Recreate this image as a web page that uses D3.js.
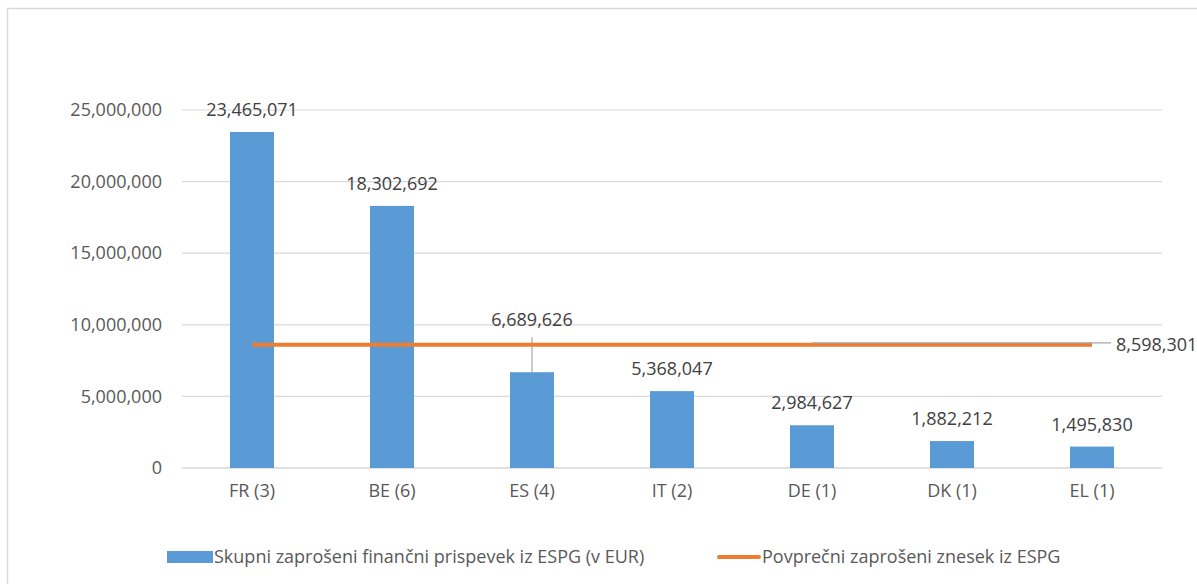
<!DOCTYPE html>
<html>
<head>
<meta charset="utf-8">
<script src="https://cdn.jsdelivr.net/npm/d3@7"></script>
<style>
  body { margin: 0; background: #fff; }
  text { font-family: "Open Sans", sans-serif; fill: #404040; }
</style>
</head>
<body>
<div id="chart"></div>
<script>
var categories = ["FR (3)", "BE (6)", "ES (4)", "IT (2)", "DE (1)", "DK (1)", "EL (1)"];
var totals = [23465071, 18302692, 6689626, 5368047, 2984627, 1882212, 1495830];
var average = [8598301, 8598301, 8598301, 8598301, 8598301, 8598301, 8598301];
var yTicks = [0, 5000000, 10000000, 15000000, 20000000, 25000000];
var seriesNames = ["Skupni zaprošeni finančni prispevek iz ESPG (v EUR)", "Povprečni zaprošeni znesek iz ESPG"];

var width = 1197;
var height = 584;
var plotL = 182, plotR = 1162, plotT = 110, plotB = 468;
var fs = "18px";
var fmt = d3.format(",");

var svg = d3.select("#chart")
    .append("svg")
    .attr("width", width)
    .attr("height", height);

// chart frame
svg.append("rect")
    .attr("x", 7.5).attr("y", 8.5)
    .attr("width", 1250).attr("height", 700)
    .attr("fill", "none")
    .attr("stroke", "#d9d9d9")
    .attr("stroke-width", 1.5);

var x = d3.scaleBand()
    .domain(categories)
    .range([plotL, plotR]);

var y = d3.scaleLinear()
    .domain([0, 25000000])
    .range([plotB, plotT]);

// gridlines
svg.append("g")
    .selectAll("line")
    .data(yTicks)
    .enter()
    .append("line")
    .attr("x1", plotL).attr("x2", plotR)
    .attr("y1", function (d) { return y(d); })
    .attr("y2", function (d) { return y(d); })
    .attr("stroke", "#d9d9d9")
    .attr("stroke-width", function (d) { return d === 0 ? 1.5 : 1.2; });

var yAxis = svg.append("g")
    .attr("transform", "translate(" + plotL + ",0)")
    .call(d3.axisLeft(y).tickValues(yTicks).tickFormat(fmt).tickSize(0).tickPadding(20));
yAxis.select(".domain").remove();
yAxis.selectAll("text").style("font-size", fs).style("fill", "#595959").style("font-family", "Open Sans");

var xAxis = svg.append("g")
    .attr("transform", "translate(0," + plotB + ")")
    .call(d3.axisBottom(x).tickSize(0).tickPadding(16));
xAxis.select(".domain").remove();
xAxis.selectAll("text").style("font-size", fs).style("fill", "#595959").style("font-family", "Open Sans");

var barW = 44;

svg.selectAll(".bar")
    .data(totals)
    .enter()
    .append("rect")
    .attr("class", "bar")
    .attr("x", function (d, i) { return x(categories[i]) + x.bandwidth() / 2 - barW / 2; })
    .attr("y", function (d) { return y(d); })
    .attr("width", barW)
    .attr("height", function (d) { return y(0) - y(d); })
    .attr("fill", "#5b9bd5");

// bar labels; ES label is lifted with a leader line
var labelLift = [22, 22, 52, 22, 22, 22, 22];
svg.selectAll(".lab")
    .data(totals)
    .enter()
    .append("text")
    .attr("class", "lab")
    .attr("x", function (d, i) { return x(categories[i]) + x.bandwidth() / 2; })
    .attr("y", function (d, i) { return y(d) - labelLift[i] + 6; })
    .attr("text-anchor", "middle")
    .style("font-size", fs)
    .text(function (d) { return fmt(d); });

svg.selectAll(".leader")
    .data(totals.filter(function (d, i) { return labelLift[i] > 30; }))
    .enter()
    .append("line")
    .attr("x1", x(categories[2]) + x.bandwidth() / 2)
    .attr("x2", x(categories[2]) + x.bandwidth() / 2)
    .attr("y1", function (d) { return y(d); })
    .attr("y2", function (d) { return y(d) - 35; })
    .attr("stroke", "#a6a6a6")
    .attr("stroke-width", 1.2);

// average line
var cx = function (d, i) { return x(categories[i]) + x.bandwidth() / 2; };
var line = d3.line()
    .x(cx)
    .y(function (d) { return y(d); });

var last = average.length - 1;

svg.append("path")
    .datum(average)
    .attr("d", line)
    .attr("fill", "none")
    .attr("stroke", "#ed7d31")
    .attr("stroke-width", 4);

// leader for the average label, peeking just above the orange line
svg.append("line")
    .attr("x1", cx(null, 4)).attr("x2", cx(null, last) + 19)
    .attr("y1", y(average[last]) - 2).attr("y2", y(average[last]) - 2)
    .attr("stroke", "#a6a6a6")
    .attr("stroke-width", 1.2);

svg.append("text")
    .attr("x", cx(null, last) + 24)
    .attr("y", y(average[last]) + 6)
    .style("font-size", fs)
    .text(fmt(average[last]));

// legend
var legend = svg.append("g").attr("transform", "translate(0,557)");
legend.append("rect")
    .attr("x", 167).attr("y", -6)
    .attr("width", 46).attr("height", 12)
    .attr("fill", "#5b9bd5");
legend.append("text")
    .attr("x", 214).attr("y", 6)
    .style("font-size", fs)
    .style("fill", "#595959")
    .text(seriesNames[0]);
legend.append("line")
    .attr("x1", 719).attr("x2", 759)
    .attr("y1", 0).attr("y2", 0)
    .attr("stroke", "#ed7d31")
    .attr("stroke-width", 4)
    .attr("stroke-linecap", "round");
legend.append("text")
    .attr("x", 762).attr("y", 6)
    .style("font-size", fs)
    .style("fill", "#595959")
    .text(seriesNames[1]);
</script>
</body>
</html>
